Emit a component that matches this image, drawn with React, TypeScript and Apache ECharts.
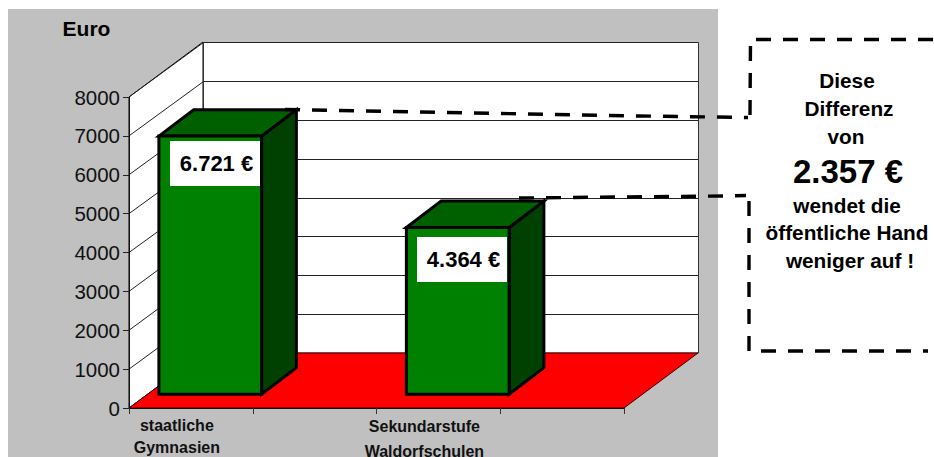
import React, { useEffect, useRef } from "react";
import * as echarts from "echarts";

const FONT = "Liberation Sans";
const categories = ["staatliche\nGymnasien", "", "Sekundarstufe\nWaldorfschulen", ""];
// Bar heights as drawn against the axis in the picture (the printed labels are in barLabels).
const barValues = [6640, null, 4290, null];
const gridValues = [1000, 2000, 3000, 4000, 5000, 6000, 7000, 8000];
const barLabels = ["6.721 €", "4.364 €"];
const axisTitle = "Euro";
const noteLines = ["Diese", "Differenz", "von", "2.357 €", "wendet die", "öffentliche Hand", "weniger auf !"];

const DEPTH_X = 74;
const DEPTH_Y = -55;

function bandEdges(api: any, index: number) {
  const band = api.size([1, 0])[0];
  const c = api.coord([index, 0])[0];
  return [c - band / 2, c + band / 2, band];
}

function renderWalls(_p: any, api: any) {
  const x0 = bandEdges(api, 0)[0];
  const x1 = bandEdges(api, categories.length - 1)[1];
  const yB = api.coord([0, 0])[1];
  const yT = api.coord([0, 8000])[1];
  const line = { stroke: "#000", lineWidth: 1 };
  return {
    type: "group",
    children: [
      {
        type: "polygon",
        shape: { points: [[x0, yB], [x0 + DEPTH_X, yB + DEPTH_Y], [x0 + DEPTH_X, yT + DEPTH_Y], [x0, yT]] },
        style: { fill: "#fff", ...line },
      },
      {
        type: "polygon",
        shape: {
          points: [
            [x0 + DEPTH_X + 0.5, yB + DEPTH_Y],
            [x1 + DEPTH_X + 0.5, yB + DEPTH_Y],
            [x1 + DEPTH_X + 0.5, Math.round(yT + DEPTH_Y) + 0.5],
            [x0 + DEPTH_X + 0.5, Math.round(yT + DEPTH_Y) + 0.5],
          ],
        },
        style: { fill: "#fff", stroke: "#333", lineWidth: 1 },
      },
      {
        type: "polygon",
        shape: { points: [[x0, yB], [x1, yB], [x1 + DEPTH_X, yB + DEPTH_Y], [x0 + DEPTH_X, yB + DEPTH_Y]] },
        style: { fill: "#ff0000", stroke: "#400000", lineWidth: 1 },
      },
    ],
  };
}

function renderGrid(_p: any, api: any) {
  const x0 = bandEdges(api, 0)[0];
  const x1 = bandEdges(api, categories.length - 1)[1];
  const y = api.coord([0, api.value(1)])[1];
  const by = Math.round(y + DEPTH_Y) + 0.5;
  return {
    type: "polyline",
    shape: { points: [[x0, y], [x0 + DEPTH_X + 0.5, by], [x1 + DEPTH_X, by]] },
    style: { fill: "none", stroke: "#222", lineWidth: 1 },
  };
}

function renderBar(_p: any, api: any) {
  const index = api.value(0);
  const [l, , band] = bandEdges(api, index);
  const v = api.value(1);
  const w = band * 0.83;
  const fx = l + band * 0.092 + DEPTH_X * 0.25;
  const bottom = api.coord([index, 0])[1] + DEPTH_Y * 0.25;
  const top = api.coord([index, v])[1] + DEPTH_Y * 0.25;
  const dx = DEPTH_X * 0.47;
  const dy = DEPTH_Y * 0.48;
  const edge = { stroke: "#000", lineWidth: 3, lineJoin: "miter" };
  return {
    type: "group",
    children: [
      {
        type: "polygon",
        shape: { points: [[fx + w, top], [fx + w + dx, top + dy], [fx + w + dx, bottom + dy], [fx + w, bottom]] },
        style: { fill: "#004000", ...edge },
      },
      {
        type: "polygon",
        shape: { points: [[fx, top], [fx + dx, top + dy], [fx + w + dx, top + dy], [fx + w, top]] },
        style: { fill: "#006000", ...edge },
      },
      {
        type: "polygon",
        shape: { points: [[fx, top], [fx + w, top], [fx + w, bottom], [fx, bottom]] },
        style: { fill: "#008000", ...edge },
      },
    ],
  };
}

const dash = { stroke: "#000", lineWidth: 3.4, lineDash: [15, 12], fill: "none" };

function boldText(text: string, x: number, y: number, size: number) {
  return {
    type: "text",
    x,
    y,
    z: 120,
    style: {
      text,
      fill: "#000",
      font: `bold ${size}px "${FONT}"`,
      align: "center",
      verticalAlign: "middle",
    },
  };
}

const noteX = [847, 849, 846, 848, 847, 847, 850];
const noteY = [80, 108, 136, 171, 205, 232, 260];
const noteSize = [20.8, 20.8, 20.8, 33, 20.8, 20.8, 20.8];

export default function App() {
  const ref = useRef<HTMLDivElement>(null);
  useEffect(() => {
    document.body.style.margin = "0";
    const chart = echarts.init(ref.current!, undefined, { renderer: "svg" });
    chart.setOption({
      animation: false,
      textStyle: { fontFamily: FONT },
      grid: { left: 129, top: 97, width: 495, height: 311, containLabel: false, outerBoundsMode: "none" },
      xAxis: {
        type: "category",
        data: categories,
        z: 10,
        axisLine: { show: true, lineStyle: { color: "#111", width: 1 } },
        axisTick: { show: true, length: 6, lineStyle: { color: "#333" }, alignWithLabel: false },
        axisLabel: {
          interval: 0,
          margin: 6,
          padding: [0, 28, 0, 0],
          formatter: (value: string, index: number) => {
            if (!value) return "";
            const k = index === 0 ? "a" : "b";
            return value.split("\n").map((t) => `{${k}|${t}}`).join("\n");
          },
          rich: {
            a: { fontFamily: FONT, fontWeight: "bold", fontSize: 16, lineHeight: 22, color: "#111" },
            b: { fontFamily: FONT, fontWeight: "bold", fontSize: 16, lineHeight: 25, color: "#111" },
          },
        },
      },
      yAxis: {
        type: "value",
        min: 0,
        max: 8000,
        interval: 1000,
        z: 10,
        splitLine: { show: false },
        axisLine: { show: true, lineStyle: { color: "#111", width: 1 } },
        axisTick: { show: true, length: 6, lineStyle: { color: "#222" } },
        axisLabel: { margin: 9, fontFamily: FONT, fontSize: 20.5, color: "#111", formatter: (v: number) => String(v) },
      },
      series: [
        { type: "custom", z: 1, silent: true, renderItem: renderWalls, data: [[0, 0]], encode: { x: 0, y: 1 } },
        { type: "custom", z: 2, silent: true, renderItem: renderGrid, data: gridValues.map((v) => [0, v]), encode: { x: 0, y: 1 } },
        {
          type: "custom",
          z: 3,
          renderItem: renderBar,
          data: barValues.map((v, i) => [i, v]).filter((d) => d[1] !== null),
          encode: { x: 0, y: 1 },
        },
      ],
      graphic: [
        { type: "rect", z: -10, shape: { x: 8, y: 9, width: 710, height: 448 }, style: { fill: "#c0c0c0" } },
        boldText(axisTitle, 86.5, 28, 21),
        { type: "rect", z: 100, shape: { x: 170, y: 141, width: 90, height: 45 }, style: { fill: "#fff" } },
        { type: "rect", z: 100, shape: { x: 417, y: 237, width: 90, height: 45 }, style: { fill: "#fff" } },
        boldText(barLabels[0], 216.5, 163, 22),
        boldText(barLabels[1], 463.5, 259, 22),
        {
          type: "polyline",
          z: 110,
          shape: { points: [[285, 109.5], [640, 116], [748, 117.5]] },
          style: dash,
        },
        {
          type: "polyline",
          z: 110,
          shape: { points: [[750, 115], [750.5, 39.5], [934, 39.5]] },
          style: dash,
        },
        {
          type: "polyline",
          z: 110,
          shape: { points: [[519, 198], [723, 196], [746, 195.5]] },
          style: dash,
        },
        {
          type: "polyline",
          z: 110,
          shape: { points: [[749, 201], [749, 351], [928, 351]] },
          style: dash,
        },
        ...noteLines.map((t, i) => boldText(t, noteX[i], noteY[i], noteSize[i])),
      ],
    });
    return () => chart.dispose();
  }, []);
  return <div ref={ref} style={{ position: "absolute", left: 0, top: 0, width: 934, height: 457 }} />;
}
